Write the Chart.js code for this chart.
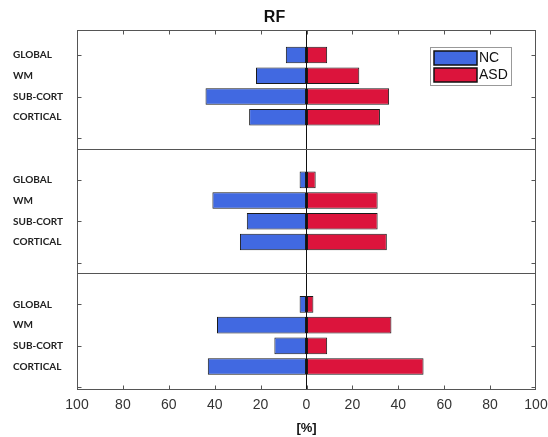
<!DOCTYPE html>
<html>
<head>
<meta charset="utf-8">
<script src="https://cdn.jsdelivr.net/npm/chart.js@4.4.1/dist/chart.umd.min.js"></script>
<style>
  html, body { margin: 0; padding: 0; background: #fff; }
  #wrap { width: 548px; height: 437px; }
</style>
</head>
<body>
<div id="wrap"><canvas id="rfChart"></canvas></div>
<script>
// regions, listed top to bottom inside every panel
const regions = ['GLOBAL', 'WM', 'SUB-CORT', 'CORTICAL'];

// percentages per panel (NC is drawn to the left, so it gets negated below)
const ncPanel1 = [9, 22, 44, 25];
const asdPanel1 = [9, 23, 36, 32];
const ncPanel2 = [3, 41, 26, 29];
const asdPanel2 = [4, 31, 31, 35];
const ncPanel3 = [3, 39, 14, 43];
const asdPanel3 = [3, 37, 9, 51];

const xTicks = [-100, -80, -60, -40, -20, 0, 20, 40, 60, 80, 100];
const panelTicks = [0, 2, 4];

const NC_COLOR = '#4169E1';
const ASD_COLOR = '#DC143C';

function rows(values, sign) {
    return values.map((v, i) => ({ x: sign * v, y: i }));
}

function barSet(label, values, sign, color, axis) {
    return {
        label: label,
        data: rows(values, sign),
        yAxisID: axis,
        backgroundColor: color,
        borderColor: '#1a1a1a',
        borderWidth: 1,
        borderSkipped: false,
        grouped: false,
        barPercentage: 0.8,
        categoryPercentage: 1
    };
}

function panelAxis(min, max) {
    return {
        type: 'linear',
        position: 'left',
        stack: 'panels',
        stackWeight: max - min,
        reverse: true,
        offset: false,
        grace: 0,
        min: min,
        max: max,
        grid: { display: false, drawTicks: false, offset: false },
        border: { display: false },
        afterBuildTicks: s => { s.ticks = regions.map((r, i) => ({ value: i })); },
        afterFit: s => { s.width = 64; },
        ticks: {
            callback: v => regions[v],
            crossAlign: 'far',
            autoSkip: false,
            padding: 0,
            color: '#222',
            font: { family: 'Lato', weight: 'bold', size: 10 }
        }
    };
}

// outer frame, panel separators and the small inward tick marks
const frames = {
    id: 'frames',
    afterDraw(chart) {
        const { ctx, chartArea: a, scales } = chart;
        ctx.save();
        ctx.strokeStyle = '#555';
        ctx.lineWidth = 1;
        const L = Math.round(a.left) + 0.5, R = Math.round(a.right) - 0.5;
        const T = Math.round(a.top) + 0.5, B = Math.round(a.bottom) - 0.5;
        ctx.strokeRect(L, T, R - L, B - T);
        ['y1', 'y2'].forEach(id => {
            const sy = Math.round(scales[id].bottom) + 0.5;
            ctx.beginPath();
            ctx.moveTo(L, sy); ctx.lineTo(R, sy);
            ctx.stroke();
        });
        ['y1', 'y2', 'y3'].forEach(id => {
            const s = scales[id];
            panelTicks.forEach(v => {
                if (v < s.min || v > s.max) return;
                const py = Math.round(s.getPixelForValue(v)) + 0.5;
                ctx.beginPath();
                ctx.moveTo(L, py); ctx.lineTo(L + 4, py);
                ctx.moveTo(R - 4, py); ctx.lineTo(R, py);
                ctx.stroke();
            });
        });
        xTicks.forEach(v => {
            if (v === -100 || v === 100) return;
            const px = Math.round(scales.x.getPixelForValue(v)) + 0.5;
            ctx.beginPath();
            ctx.moveTo(px, T); ctx.lineTo(px, T + 4);
            ctx.moveTo(px, B - 4); ctx.lineTo(px, B);
            ctx.stroke();
        });
        ctx.restore();
    }
};

// NC / ASD key inside the top panel
const keyBox = {
    id: 'keyBox',
    afterDraw(chart) {
        const { ctx, chartArea: a } = chart;
        const x = Math.round(a.right) - 106, y = Math.round(a.top) + 17;
        ctx.save();
        ctx.fillStyle = '#fff';
        ctx.fillRect(x, y, 81, 38);
        ctx.strokeStyle = '#999';
        ctx.lineWidth = 1;
        ctx.strokeRect(x + 0.5, y + 0.5, 81, 38);
        ctx.font = '14px "Liberation Sans"';
        ctx.textBaseline = 'middle';
        chart.data.datasets.slice(0, 2).forEach((ds, i) => {
            const sy = y + 4 + i * 17;
            ctx.fillStyle = ds.backgroundColor;
            ctx.fillRect(x + 4, sy, 43, 14);
            ctx.strokeStyle = '#111';
            ctx.lineWidth = 1.5;
            ctx.strokeRect(x + 4, sy, 43, 14);
            ctx.fillStyle = '#111';
            ctx.fillText(ds.label, x + 49, sy + 7.5);
        });
        ctx.restore();
    }
};

const ctx = document.getElementById('rfChart').getContext('2d');
const rfChart = new Chart(ctx, {
    type: 'bar',
    data: {
        datasets: [
            barSet('NC', ncPanel1, -1, NC_COLOR, 'y1'),
            barSet('ASD', asdPanel1, 1, ASD_COLOR, 'y1'),
            barSet('NC', ncPanel2, -1, NC_COLOR, 'y2'),
            barSet('ASD', asdPanel2, 1, ASD_COLOR, 'y2'),
            barSet('NC', ncPanel3, -1, NC_COLOR, 'y3'),
            barSet('ASD', asdPanel3, 1, ASD_COLOR, 'y3')
        ]
    },
    options: {
        indexAxis: 'y',
        responsive: true,
        maintainAspectRatio: false,
        animation: false,
        layout: { padding: { left: 13, right: 12, top: 0, bottom: 0 } },
        plugins: {
            legend: { display: false },
            tooltip: { enabled: false },
            title: {
                display: true,
                text: 'RF',
                color: '#111',
                font: { family: 'Liberation Sans', size: 16, weight: 'bold' },
                padding: { top: 8, bottom: 3 }
            }
        },
        scales: {
            x: {
                type: 'linear',
                min: -100,
                max: 100,
                afterBuildTicks: s => { s.ticks = xTicks.map(v => ({ value: v })); },
                afterFit: s => {
                    s.height = 47;
                    // let the end labels hang past the frame
                    s.paddingLeft = 0;
                    s.paddingRight = 0;
                },
                grid: {
                    drawTicks: false,
                    lineWidth: 1,
                    color: c => (c.tick && c.tick.value === 0) ? '#111' : 'rgba(0,0,0,0)'
                },
                border: { display: false },
                ticks: {
                    callback: v => Math.abs(v),
                    autoSkip: false,
                    maxRotation: 0,
                    padding: 7,
                    color: '#333',
                    font: { family: 'Liberation Sans', size: 14 }
                },
                title: {
                    display: true,
                    text: '[%]',
                    color: '#111',
                    font: { family: 'Liberation Sans', size: 13, weight: 'bold' },
                    padding: { top: 0, bottom: 1 }
                }
            },
            // left-side stacked axes are laid out last-defined on top
            y3: panelAxis(-1.51, 4.13),
            y2: panelAxis(-1.5, 4.5),
            y1: panelAxis(-1.2, 4.52)
        }
    },
    plugins: [frames, keyBox]
});
</script>
</body>
</html>
